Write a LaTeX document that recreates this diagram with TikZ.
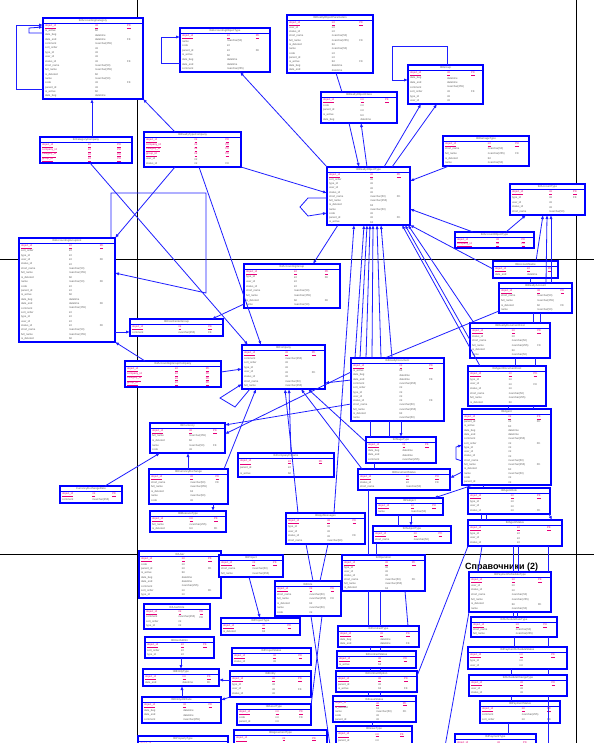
\documentclass[tikz,border=0pt]{standalone}
\usepackage{fontspec}
\newfontfamily\lblfont{Liberation Sans}
\usetikzlibrary{arrows.meta}
\definecolor{eblue}{RGB}{0,0,255}
\definecolor{cblue}{RGB}{30,30,255}
\definecolor{pkc}{RGB}{230,0,120}
\definecolor{txtc}{RGB}{95,95,95}
\newcommand\cname[1]{\ifcase#1 name\or code\or parent\_id\or is\_active\or date\_beg\or date\_end\or comment\or sort\_order\or type\_id\or user\_id\or status\_id\or short\_name\or full\_name\or is\_deleted\fi}
\newcommand\ctype[1]{\ifcase#1 nvarchar(50)\or int\or int\or bit\or datetime\or datetime\or nvarchar(255)\or int\or int\or int\or int\or nvarchar(50)\or nvarchar(255)\or bit\fi}
\newcommand\pkname[1]{\ifcase#1\or object\_id\or company\_id\or category\_id\or group\_id\or type\_id\fi}
\tikzset{
  ebox/.style={draw=eblue,fill=white,line width=1.1pt,inner sep=0pt,outer sep=0pt},
  ebord/.style={draw=eblue,line width=0.7pt},
  etitle/.style={inner sep=0pt,font=\lblfont\fontsize{2.8}{3.2}\selectfont,text=txtc},
  erow/.style={anchor=west,inner sep=0pt,font=\lblfont\fontsize{2.7}{3}\selectfont,text=txtc},
  epk/.style={anchor=west,inner sep=0pt,font=\lblfont\fontsize{2.7}{3}\selectfont,text=pkc},
  conn/.style={draw=cblue,line width=0.8pt},
  pa/.style={-{Latex[length=4pt,width=3.2pt]}},
  pageline/.style={draw=black,line width=0.9pt},
  sect/.style={font=\lblfont\bfseries\fontsize{9}{10}\selectfont,inner sep=0pt,anchor=west}
}
\newcommand\erbox[8]{%
 \pgfmathsetmacro\ebw{#4-#2}%
 \pgfmathsetmacro\ebh{#5-#3}%
 \node[ebox,minimum width=\ebw pt,minimum height=\ebh pt,anchor=north west] (#1) at (#2,#3) {};
 \node[etitle] at ({(#2+#4)/2},{#3+3}) {#6};
 \draw[ebord] (#2,{#3+5.6}) -- (#4,{#3+5.6});
 \pgfmathsetmacro\ebrh{(\ebh-7.2)/#8}%
 \foreach \i in {1,...,#8}{%
   \pgfmathsetmacro\ebyy{#3+6.4+(\i-0.5)*\ebrh}%
   \pgfmathtruncatemacro\ebk{mod(\i+#2,14)}%
   \pgfmathtruncatemacro\ebf{mod(\i*3+#3,5)}%
   \ifnum\i>#7\relax
     \node[erow] at ({#2+2},\ebyy) {\cname{\ebk}};
     \node[erow] at ({#2+0.52*\ebw},\ebyy) {\ctype{\ebk}};
     \ifnum\ebf=0 \node[erow] at ({#2+0.84*\ebw},\ebyy) {FK};\fi
   \else
     \node[epk] at ({#2+2},\ebyy) {\underline{\pkname{\i}}};
     \node[epk] at ({#2+0.52*\ebw},\ebyy) {\underline{int}};
     \node[epk] at ({#2+0.84*\ebw},\ebyy) {\underline{PK}};
   \fi
 }%
}
\begin{document}
\begin{tikzpicture}[x=1pt,y=-1pt]
\useasboundingbox (0,0) rectangle (594,743);
\clip (0,0) rectangle (594,743);
\fill[white] (0,0) rectangle (594,743);
% page lines
\draw[pageline] (137,0) -- (137,743);
\draw[pageline] (576,0) -- (576,743);
\draw[pageline] (0,259) -- (594,259);
\draw[pageline] (0,554) -- (594,554);
% boxes
\erbox{A}{43}{18}{143}{99}{tblAccountingCategory}{1}{17}
\erbox{B}{40}{137}{132}{163}{tblCategoryCompany}{4}{4}
\erbox{C}{144}{132}{241}{167}{tblRealtyTypeCompany}{4}{6}
\erbox{D}{180}{28}{270}{72}{tblAccountingObjectType}{1}{8}
\erbox{E}{287}{15}{373}{73}{tblRealtyObjectParameters}{1}{12}
\erbox{F}{321}{92}{397}{123}{tblRealtyObjectClass}{1}{5}
\erbox{G}{327}{167}{410}{225}{tblRealtyObjectType}{1}{12}
\erbox{H}{408}{65}{483}{104}{tblGroup}{1}{7}
\erbox{I}{443}{136}{529}{166}{tblDamageType}{1}{5}
\erbox{J}{510}{184}{585}{215}{tblAccountType}{1}{5}
\erbox{K}{244}{264}{340}{308}{tblAccountingGroup}{1}{8}
\erbox{L}{242}{345}{325}{389}{tblCompany}{1}{8}
\erbox{M}{351}{358}{444}{421}{tblRealtyDocument}{1}{13}
\erbox{N}{19}{238}{115}{342}{tblAccountingGroupList}{1}{22}
\erbox{O}{130}{319}{223}{336}{tblCostCenterGroup}{1}{2}
\erbox{P}{125}{361}{221}{387}{tblAccountingGroupCompany}{4}{4}
\erbox{Q}{150}{423}{225}{453}{tblCurrency}{1}{5}
\erbox{R}{149}{469}{228}{504}{tblCurrencyExchange}{1}{6}
\erbox{S}{150}{511}{226}{532}{tblMeasureType}{1}{3}
\erbox{T}{60}{486}{122}{503}{CurrencyExchangeRate}{1}{2}
\erbox{U}{238}{453}{334}{477}{tblCompanyParams}{1}{3}
\erbox{V}{286}{513}{365}{544}{tblAppMessages}{1}{5}
\erbox{X}{366}{437}{436}{463}{tblStageType}{1}{4}
\erbox{Y}{358}{469}{450}{490}{tblDocumentStatus}{1}{3}
\erbox{Z}{376}{498}{443}{515}{tblSubject}{1}{2}
\erbox{AA}{373}{526}{451}{543}{tblSubjectType}{1}{2}
\erbox{AI}{470}{323}{550}{358}{tblRealtyDocumentCost}{1}{6}
\erbox{AJ}{468}{366}{546}{406}{tblAgentDocumentCost}{1}{7}
\erbox{AC}{462}{409}{551}{485}{tblAgent}{1}{16}
\erbox{AD}{468}{488}{550}{514}{tblAgentRole}{1}{4}
\erbox{AE}{468}{520}{562}{546}{tblAgentStatus}{1}{4}
\erbox{AF}{455}{232}{534}{248}{tblAccountObjectType}{2}{2}
\erbox{AG}{493}{261}{558}{278}{tblAccountName}{1}{2}
\erbox{AH}{499}{283}{572}{313}{tblRealtyAccount}{1}{5}
\erbox{BA}{139}{551}{221}{598}{tblUser}{1}{9}
\erbox{BB}{144}{604}{210}{629}{tblUserRole}{1}{4}
\erbox{BC}{145}{637}{214}{658}{tblUserAdmin}{1}{3}
\erbox{BD}{143}{669}{219}{686}{tblEntityType}{1}{2}
\erbox{BE}{142}{697}{221}{723}{tblEntityAttribute}{1}{4}
\erbox{BF}{138}{736}{228}{760}{tblPropertyType}{1}{3}
\erbox{CA}{219}{555}{283}{577}{tblProject}{1}{3}
\erbox{CB}{275}{581}{341}{616}{tblRole}{1}{6}
\erbox{CC}{342}{555}{425}{591}{tblOperation}{1}{7}
\erbox{CD}{221}{618}{300}{635}{tblProjectType}{1}{2}
\erbox{CE}{232}{648}{311}{665}{tblProjectStatus}{1}{2}
\erbox{CF}{230}{671}{311}{697}{tblEntity}{1}{4}
\erbox{CG}{237}{704}{311}{725}{tblAssetType}{1}{3}
\erbox{CH}{234}{730}{327}{760}{tblAgreementType}{1}{4}
\erbox{CJ}{338}{626}{419}{647}{tblContractType}{1}{3}
\erbox{CK}{337}{651}{416}{668}{tblContractStatus}{1}{2}
\erbox{CL}{336}{671}{417}{692}{tblContractOption}{1}{3}
\erbox{CM}{333}{696}{416}{722}{tblIssueStatus}{1}{5}
\erbox{CN}{336}{726}{412}{760}{tblIssueType}{1}{5}
\erbox{DA}{469}{572}{551}{612}{tblPaymentScheduleType}{1}{7}
\erbox{DB}{471}{617}{557}{637}{tblScheduleRateType}{1}{3}
\erbox{DC}{468}{647}{567}{669}{tblPaymentScheduleStatus}{1}{3}
\erbox{DD}{469}{675}{567}{696}{tblScheduleChangeType}{1}{3}
\erbox{DE}{480}{701}{560}{723}{tblPaymentStatus}{1}{3}
\erbox{DF}{455}{734}{536}{760}{tblPaymentType}{1}{3}
\node[sect] (lbl) at (465,567) {Справочники (2)};
\coordinate (offA) at (444,752);
\coordinate (offB) at (331,752);
% connectors
\draw[conn,pa] (A.west |- 0,89) -- (16,89) -- (16,25) -- (A.west |- 0,25);
\draw[conn,pa] (A.west |- 0,33) -- (29,33) -- (29,28) -- (A.west |- 0,27);
\draw[conn,pa] (B.north -| 92,0) -- (A.south -| 92,0);
\draw[conn,pa] (C.north -| 175,0) -- (A.south east);
\draw[conn,pa] (D.west |- 0,63) -- (161,63) -- (161,37) -- (D.west |- 0,37);
\draw[conn,pa] (G.north west) -- (D.south -| 240,0);
\draw[conn] (E.south -| 336,0) -- (F.north -| 342,0);
\draw[conn,pa] (F.south -| 349,0) -- (G.north -| 359,0);
\draw[conn,pa] (G.north -| 367,0) -- (F.south -| 361,0);
\draw[conn,pa] (C.south east) -- (G.west |- 0,193);
\draw[conn,pa] (G.west |- 0,198) -- (308,198) -- (300,207) -- (308,216) -- (G.west |- 0,213);
\draw[conn,pa] (G.north -| 384,0) -- (H.south -| 421,0);
\draw[conn,pa] (G.north -| 392,0) -- (H.south -| 437,0);
\draw[conn,pa] (H.north -| 447,0) -- (447,46) -- (392,46) -- (392,80) -- (H.west |- 0,80);
\draw[conn,pa] (I.south -| 449,0) -- (G.east |- 0,181);
\draw[conn,pa] (AF.north -| 473,0) -- (G.east |- 0,209);
\draw[conn,pa] (AF.north -| 506,0) -- (J.south -| 526,0);
\draw[conn,pa] (AG.north -| 536,0) -- (J.south -| 543,0);
\draw[conn,pa] (AH.north -| 546,0) -- (J.south -| 547,0);
\draw[conn,pa] (AH.north -| 551,0) -- (J.south -| 551,0);
\draw[conn,pa] (AG.west |- 0,269) -- (G.south east);
\draw[conn,pa] (AI.north -| 474,0) -- (G.south -| 408,0);
\draw[conn,pa] (AI.west |- 0,340) -- (G.south -| 405,0);
\draw[conn,pa] (AJ.north -| 480,0) -- (G.south -| 402,0);
\draw[conn] (AH.west |- 0,311) -- (M.north -| 385,0);
\draw[conn] (AG.south -| 530,0) -- (AH.north -| 530,0);
\draw[conn] (AH.south -| 533,0) -- (AI.north -| 533,0);
\draw[conn] (AH.south -| 540,0) -- (AI.north -| 540,0);
\draw[conn] (AI.south -| 515,0) -- (AJ.north -| 515,0);
\draw[conn] (AI.south -| 535,0) -- (AJ.north -| 535,0);
\draw[conn] (AJ.south -| 508,0) -- (AC.north -| 508,0);
\draw[conn] (AJ.south -| 533,0) -- (AC.north -| 533,0);
\draw[conn,pa] (M.north -| 355,0) -- (G.south -| 364,0);
\draw[conn,pa] (M.north -| 360,0) -- (G.south -| 367,0);
\draw[conn,pa] (M.north -| 366,0) -- (G.south -| 370,0);
\draw[conn,pa] (M.north -| 372,0) -- (G.south -| 373,0);
\draw[conn,pa] (M.north -| 381,0) -- (G.south -| 377,0);
\draw[conn,pa] (M.north -| 392,0) -- (G.south -| 381,0);
\draw[conn,pa] (G.south -| 338,0) -- (K.north -| 313,0);
\draw[conn,pa] (V.north -| 334,0) -- (G.south -| 354,0);
\draw[conn,pa] (N.north -| 111,0) -- (111,193) -- (206,193) -- (206,293) -- (N.east |- 0,273);
\draw[conn,pa] (K.west |- 0,304) -- (O.north -| 212,0);
\draw[conn,pa] (C.south -| 175,0) -- (N.north east);
\draw[conn,pa] (B.south -| 90,0) -- (L.north -| 248,0);
\draw[conn,pa] (C.south -| 199,0) -- (L.north -| 261,0);
\draw[conn,pa] (N.east |- 0,332) -- (O.west |- 0,332);
\draw[conn,pa] (P.north -| 145,0) -- (N.south east);
\draw[conn,pa] (P.east |- 0,372) -- (L.west |- 0,369);
\draw[conn,pa] (L.south -| 250,0) -- (235,407) -- (220,398) -- (L.west |- 0,384);
\draw[conn,pa] (R.north -| 224,0) -- (L.south -| 256,0);
\draw[conn,pa] (M.west |- 0,404) -- (Q.east |- 0,425);
\draw[conn,pa] (M.west |- 0,372) -- (Q.east |- 0,434);
\draw[conn,pa] (M.west |- 0,380) -- (L.east |- 0,383);
\draw[conn,pa] (T.north -| 105,0) -- (Q.south -| 160,0);
\draw[conn,pa] (R.north -| 188,0) -- (Q.south -| 188,0);
\draw[conn,pa] (R.south -| 213,0) -- (S.north -| 213,0);
\draw[conn,pa] (V.north -| 298,0) -- (L.south -| 285,0);
\draw[conn,pa] (U.north -| 291,0) -- (L.south -| 289,0);
\draw[conn,pa] (Y.north -| 362,0) -- (L.south -| 301,0);
\draw[conn,pa] (X.west |- 0,442) -- (L.south -| 308,0);
\draw[conn,pa] (M.south -| 401,0) -- (X.north -| 401,0);
\draw[conn] (M.south -| 370,0) -- (X.north -| 370,0);
\draw[conn] (M.south -| 389,0) -- (X.north -| 389,0);
\draw[conn] (X.south -| 374,0) -- (Y.north -| 374,0);
\draw[conn] (Y.south -| 368,0) -- (CC.north -| 368,0);
\draw[conn] (AA.south -| 376,0) -- (CC.north -| 376,0);
\draw[conn,pa] (AC.west |- 0,472) -- (Y.east |- 0,478);
\draw[conn,pa] (AC.south -| 473,0) -- (Z.north -| 434,0);
\draw[conn,pa] (Z.south -| 411,0) -- (AA.north -| 411,0);
\draw[conn] (Z.south -| 398,0) -- (AA.north -| 398,0);
\draw[conn,pa] (AC.west |- 0,461) -- (456,459) -- (456,447) -- (AC.west |- 0,445);
\draw[conn] (AC.south -| 483,0) -- (AD.north -| 483,0);
\draw[conn] (AD.south -| 481,0) -- (AE.north -| 481,0);
\draw[conn] (AD.south -| 486,0) -- (AE.north -| 486,0);
\draw[conn,pa] (AD.south -| 549,0) -- (AE.north -| 552,0);
\draw[conn] (AE.south -| 513,0) -- (DA.north -| 513,0);
\draw[conn] (AE.south -| 518,0) -- (DA.north -| 518,0);
\draw[conn] (AE.south -| 548,0) -- (DA.north -| 548,0);
\draw[conn] (AE.south -| 482,0) -- (DA.north -| 478,0);
\draw[conn] (AE.south west) -- (CL.east |- 0,676);
\draw[conn] (DA.south west) -- (offA);
\draw[conn] (DA.south -| 513,0) -- (DB.north -| 513,0);
\draw[conn] (DA.south -| 517,0) -- (DB.north -| 517,0);
\draw[conn] (DB.south -| 514,0) -- (DC.north -| 514,0);
\draw[conn] (DB.south -| 548,0) -- (DC.north -| 548,0);
\draw[conn] (DC.south -| 511,0) -- (DD.north -| 511,0);
\draw[conn] (DC.south -| 548,0) -- (DD.north -| 548,0);
\draw[conn] (DD.south -| 511,0) -- (DE.north -| 511,0);
\draw[conn] (DD.south -| 548,0) -- (548,752);
\draw[conn] (DE.south -| 508,0) -- (DF.north -| 508,0);
\draw[conn] (V.south -| 306,0) -- (CB.north -| 313,0);
\draw[conn] (V.south -| 328,0) -- (CB.north -| 320,0);
\draw[conn] (CB.south -| 311,0) -- (offB);
\draw[conn] (CB.south -| 322,0) -- (CG.east |- 0,706);
\draw[conn,pa] (CA.south -| 249,0) -- (CD.north -| 260,0);
\draw[conn,pa] (BC.south -| 181,0) -- (BD.north -| 181,0);
\draw[conn,pa] (BE.north -| 182,0) -- (BD.south -| 182,0);
\draw[conn,pa] (CF.west |- 0,680) -- (BD.east |- 0,680);
\draw[conn,pa] (CF.south west) -- (BE.east |- 0,700);
\draw[conn] (CC.south -| 368,0) -- (CJ.north -| 368,0);
\draw[conn] (CC.south -| 380,0) -- (CJ.north -| 380,0);
\draw[conn] (CC.south -| 405,0) -- (CJ.north -| 408,0);
\draw[conn] (CJ.south -| 370,0) -- (CK.north -| 370,0);
\draw[conn] (CJ.south -| 380,0) -- (CK.north -| 380,0);
\draw[conn] (CK.south -| 370,0) -- (CL.north -| 370,0);
\draw[conn] (CK.south -| 380,0) -- (CL.north -| 380,0);
\draw[conn] (CL.south -| 368,0) -- (CM.north -| 368,0);
\draw[conn] (CL.south -| 380,0) -- (CM.north -| 380,0);
\draw[conn] (CM.south -| 372,0) -- (CN.north -| 372,0);
\end{tikzpicture}
\end{document}
